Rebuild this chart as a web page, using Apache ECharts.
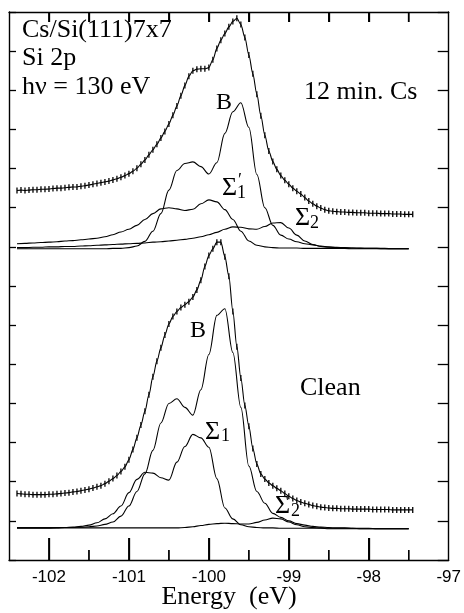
<!DOCTYPE html>
<html><head><meta charset="utf-8">
<script src="https://cdn.jsdelivr.net/npm/echarts@6.0.0/dist/echarts.min.js"></script>
<style>html,body{margin:0;padding:0;background:#fff}#c{width:464px;height:613px}</style>
</head><body><div id="c"></div><script>
// Measured spectra (binding energy in eV, intensity in arbitrary units)
const energyData = [
-102.40,-102.35,-102.30,-102.25,-102.20,-102.15,-102.10,-102.05,-102.00,-101.95,
-101.90,-101.85,-101.80,-101.75,-101.70,-101.65,-101.60,-101.55,-101.50,-101.45,
-101.40,-101.35,-101.30,-101.25,-101.20,-101.15,-101.10,-101.05,-101.00,-100.95,
-100.90,-100.85,-100.80,-100.75,-100.70,-100.65,-100.60,-100.55,-100.50,-100.45,
-100.40,-100.35,-100.30,-100.25,-100.20,-100.15,-100.10,-100.05,-100.00,-99.95,
-99.90,-99.85,-99.80,-99.75,-99.70,-99.65,-99.60,-99.55,-99.50,-99.45,
-99.40,-99.35,-99.30,-99.25,-99.20,-99.15,-99.10,-99.05,-99.00,-98.95,
-98.90,-98.85,-98.80,-98.75,-98.70,-98.65,-98.60,-98.55,-98.50,-98.45,
-98.40,-98.35,-98.30,-98.25,-98.20,-98.15,-98.10,-98.05,-98.00,-97.95,
-97.90,-97.85,-97.80,-97.75,-97.70,-97.65,-97.60,-97.55,-97.50,-97.45];
const cs12Total = [
9.44,9.45,9.44,9.45,9.46,9.46,9.47,9.47,9.48,9.49,
9.50,9.50,9.51,9.52,9.53,9.53,9.55,9.56,9.58,9.60,
9.62,9.64,9.66,9.68,9.71,9.74,9.78,9.82,9.87,9.93,
10.01,10.11,10.22,10.35,10.48,10.62,10.78,10.95,11.14,11.36,
11.60,11.86,12.12,12.36,12.50,12.54,12.55,12.55,12.58,12.78,
13.07,13.28,13.45,13.62,13.76,13.84,13.68,13.35,12.90,12.42,
11.90,11.35,10.85,10.45,10.18,9.98,9.82,9.70,9.60,9.50,
9.42,9.35,9.26,9.17,9.10,9.04,8.99,8.95,8.92,8.91,
8.90,8.89,8.89,8.88,8.88,8.87,8.87,8.87,8.86,8.86,
8.86,8.85,8.85,8.85,8.84,8.84,8.84,8.83,8.83,8.83];
const cleanTotal = [
1.70,1.69,1.68,1.68,1.67,1.67,1.67,1.67,1.68,1.68,
1.69,1.70,1.71,1.72,1.74,1.75,1.77,1.79,1.81,1.84,
1.87,1.90,1.95,2.01,2.08,2.16,2.26,2.38,2.56,2.82,
3.12,3.45,3.80,4.22,4.68,5.08,5.42,5.75,6.03,6.22,
6.35,6.45,6.52,6.60,6.72,6.90,7.15,7.50,7.78,7.95,
8.12,8.12,7.75,7.25,6.35,5.45,4.65,3.95,3.42,2.85,
2.45,2.20,2.07,1.97,1.90,1.83,1.77,1.70,1.63,1.57,
1.52,1.48,1.45,1.42,1.39,1.37,1.35,1.34,1.33,1.32,
1.32,1.31,1.31,1.31,1.30,1.30,1.30,1.30,1.30,1.29,
1.29,1.29,1.29,1.29,1.28,1.28,1.28,1.28,1.28,1.28];

// Fitted components
const energyFit = [
-102.4,-102.3,-102.2,-102.1,-102.0,-101.9,-101.8,-101.7,-101.6,-101.5,
-101.4,-101.3,-101.2,-101.1,-101.0,-100.9,-100.8,-100.7,-100.6,-100.5,
-100.4,-100.3,-100.2,-100.1,-100.0,-99.9,-99.8,-99.7,-99.6,-99.5,
-99.4,-99.3,-99.2,-99.1,-99.0,-98.9,-98.8,-98.7,-98.6,-98.5,
-98.4,-98.3,-98.2,-98.1,-98.0,-97.9,-97.8,-97.7,-97.6,-97.5];
const cs12B = [
7.95,7.95,7.95,7.95,7.95,7.95,7.95,7.95,7.95,7.95,
7.95,7.95,7.96,7.96,7.98,8.02,8.14,8.40,8.85,9.45,
9.95,10.13,10.17,10.05,9.86,10.15,10.90,11.45,11.68,11.05,
9.85,9.00,8.55,8.30,8.20,8.13,8.08,8.05,8.02,8.00,
7.99,7.98,7.97,7.97,7.96,7.96,7.96,7.95,7.95,7.95];
const cs12Sigma1 = [
8.08,8.09,8.10,8.11,8.12,8.13,8.15,8.16,8.18,8.20,
8.22,8.26,8.31,8.38,8.45,8.55,8.70,8.85,8.97,9.00,
8.97,8.93,8.96,9.10,9.20,9.15,8.95,8.70,8.40,8.15,
8.04,8.00,7.98,7.97,7.97,7.97,7.96,7.96,7.96,7.96,
7.96,7.96,7.95,7.95,7.95,7.95,7.95,7.95,7.95,7.95];
const cs12Sigma2 = [
7.98,7.98,7.99,7.99,8.00,8.00,8.01,8.01,8.02,8.03,
8.04,8.05,8.06,8.07,8.08,8.09,8.10,8.12,8.13,8.15,
8.17,8.19,8.22,8.26,8.31,8.37,8.45,8.51,8.50,8.46,
8.45,8.52,8.61,8.62,8.48,8.30,8.15,8.06,8.01,7.99,
7.98,7.97,7.97,7.96,7.96,7.96,7.95,7.95,7.95,7.95];
const cleanB = [
0.82,0.82,0.82,0.82,0.82,0.82,0.83,0.83,0.84,0.85,
0.87,0.91,0.97,1.12,1.38,1.75,2.20,2.80,3.50,4.00,
4.12,3.90,3.70,4.35,5.25,6.25,6.42,5.30,3.90,2.40,
1.75,1.45,1.19,1.09,1.00,0.93,0.89,0.86,0.84,0.83,
0.82,0.82,0.81,0.81,0.81,0.80,0.80,0.80,0.80,0.80];
const cleanSigma1 = [
0.82,0.82,0.82,0.82,0.82,0.83,0.83,0.84,0.86,0.89,
0.95,1.05,1.18,1.38,1.72,2.06,2.24,2.22,2.10,2.04,
2.50,2.90,3.21,3.12,2.88,2.08,1.33,1.05,0.90,0.85,
0.83,0.82,0.82,0.81,0.81,0.81,0.81,0.81,0.81,0.80,
0.80,0.80,0.80,0.80,0.80,0.80,0.80,0.80,0.80,0.80];
const cleanSigma2 = [
0.82,0.82,0.82,0.82,0.82,0.82,0.82,0.82,0.82,0.82,
0.82,0.82,0.82,0.82,0.82,0.82,0.82,0.82,0.82,0.82,
0.82,0.83,0.85,0.88,0.91,0.93,0.94,0.93,0.92,0.92,
0.96,1.02,1.07,1.05,0.97,0.90,0.85,0.83,0.82,0.81,
0.81,0.81,0.81,0.80,0.80,0.80,0.80,0.80,0.80,0.80];

// Axis ticks / labels
const xLabelValues = [-102,-101,-100,-99,-98,-97];
const xMajorTicks = [-102,-101,-100,-99,-98];
const xMinorTicks = [-101.5,-100.5,-99.5,-98.5,-97.5];
const xTopTicks = [-102,-101.5,-101,-100.5,-100,-99.5,-99,-98.5,-98,-97.5];
const xTitle = 'Energy  (eV)';

const X_MIN = -102.5, X_MAX = -97, Y_MIN = 0, Y_MAX = 14;
const GRID = {left:9, right:13, top:12, bottom:53};
const W = 464, H = 613;
const PLOT_H = H - GRID.top - GRID.bottom;
const pxToY = (px) => px * (Y_MAX - Y_MIN) / PLOT_H;

const SERIF = '"Liberation Serif","DejaVu Serif",serif';
const chart = echarts.init(document.getElementById('c'), null, {renderer:'canvas'});

const pair = (xs, ys) => xs.map((x, i) => [x, ys[i]]);
const lineSeries = (xs, ys) => ({
  type:'line', data: pair(xs, ys), smooth: 0.35, smoothMonotone:'x', showSymbol:false,
  lineStyle:{color:'#000', width:1.1}, silent:true, z:3
});
const dataSeries = (xs, ys) => ({
  type:'line', data: pair(xs, ys), smooth: 0.3, smoothMonotone:'x',
  symbol:'rect', symbolSize:[1.3,6], showSymbol:true, showAllSymbol:true,
  itemStyle:{color:'#000'}, lineStyle:{color:'#000', width:1.1}, silent:true, z:4
});
// short vertical segments (tick marks) drawn through the axis scale
const tickSeries = (values, atTop, lenPx) => values.map(v => ({
  type:'line', silent:true, showSymbol:false, z:5,
  data: atTop ? [[v, Y_MAX], [v, Y_MAX - pxToY(lenPx)]] : [[v, Y_MIN], [v, Y_MIN + pxToY(lenPx)]],
  lineStyle:{color:'#000', width:1.3}
}));

function txt(text, x, y, size, align) {
  return {type:'text', x:x, y:y, z:100, style:{text:text, fill:'#000',
    font: size + 'px ' + SERIF, textAlign: align||'left', align: align||'left',
    textVerticalAlign:'top', verticalAlign:'top'}};
}
const tickLine = {color:'#000', width:1.3};
const texts = [
  txt('Cs/Si(111)7x7', 22, 17, 26),
  txt('Si 2p', 22, 45, 26),
  txt('h\u03bd = 130 eV', 22, 74, 26),
  txt('12 min. Cs', 304, 79, 26),
  txt('B', 216, 91, 24),
  txt('\u03a3', 222, 175, 26),
  txt('1', 237, 184, 18),
  txt('\u2032', 238, 172, 18),
  txt('\u03a3', 295, 205, 26),
  txt('2', 310, 214, 18),
  txt('B', 190, 319, 24),
  txt('Clean', 300, 375, 26),
  txt('\u03a3', 205, 419, 26),
  txt('1', 221, 427, 18),
  txt('\u03a3', 275, 493, 26),
  txt('2', 291, 502, 18),
  txt(xTitle, 229, 584, 26, 'center')
];

chart.setOption({
  animation:false,
  grid:GRID,
  xAxis:[
    {type:'value', min:X_MIN, max:X_MAX, position:'bottom',
      axisLine:{show:true, onZero:false, lineStyle:{color:'#000', width:1.4}},
      axisTick:{show:true, inside:true, length:22, customValues:xMajorTicks, lineStyle:tickLine},
      splitLine:{show:false},
      axisLabel:{show:true, customValues:xLabelValues, margin:9, color:'#000', fontSize:17,
        fontFamily:'"Liberation Sans Narrow","Liberation Sans",sans-serif',
        formatter:(v)=>String(v)}},
    {type:'value', min:X_MIN, max:X_MAX, position:'top',
      axisLine:{show:true, onZero:false, lineStyle:{color:'#000', width:1.4}},
      axisTick:{show:true, inside:true, length:10, customValues:xTopTicks, lineStyle:tickLine},
      axisLabel:{show:false}, splitLine:{show:false}}
  ],
  yAxis:[
    {type:'value', min:Y_MIN, max:Y_MAX, interval:1, position:'left',
      axisLine:{show:true, onZero:false, lineStyle:{color:'#000', width:1.4}},
      axisTick:{show:true, inside:true, length:7, lineStyle:tickLine},
      axisLabel:{show:false}, splitLine:{show:false}},
    {type:'value', min:Y_MIN, max:Y_MAX, interval:1, position:'right',
      axisLine:{show:true, onZero:false, lineStyle:{color:'#000', width:1.4}},
      axisTick:{show:true, inside:true, length:11, lineStyle:tickLine},
      axisLabel:{show:false}, splitLine:{show:false}}
  ],
  series:[
    dataSeries(energyData, cs12Total),
    lineSeries(energyFit, cs12B),
    lineSeries(energyFit, cs12Sigma1),
    lineSeries(energyFit, cs12Sigma2),
    dataSeries(energyData, cleanTotal),
    lineSeries(energyFit, cleanB),
    lineSeries(energyFit, cleanSigma1),
    lineSeries(energyFit, cleanSigma2)
  ].concat(
    tickSeries(xMajorTicks, false, 22),
    tickSeries(xMinorTicks, false, 10),
    tickSeries(xTopTicks, true, 10)
  ),
  graphic: texts
});

// Extra tick marks as graphic lines, positioned through the x scale
const tickMarks = [];
function toPx(v, yVal) {
  let p = null;
  try { p = chart.convertToPixel({xAxisIndex:0, yAxisIndex:0}, [v, yVal]); } catch (e) { p = null; }
  if (!p || !isFinite(p[0]) || !isFinite(p[1])) {
    const gw = W - GRID.left - GRID.right;
    p = [GRID.left + (v - X_MIN) / (X_MAX - X_MIN) * gw,
         GRID.top + (Y_MAX - yVal) / (Y_MAX - Y_MIN) * PLOT_H];
  }
  return p;
}
function addTicks(values, yVal, dir, len) {
  values.forEach(v => {
    const p = toPx(v, yVal);
    tickMarks.push({type:'line', z:60, silent:true,
      shape:{x1:p[0], y1:p[1], x2:p[0], y2:p[1] + dir*len},
      style:{stroke:'#000', lineWidth:1.3}});
  });
}
addTicks(xMajorTicks, Y_MIN, -1, 22);
addTicks(xMinorTicks, Y_MIN, -1, 10);
addTicks(xTopTicks, Y_MAX, 1, 10);
chart.setOption({graphic: texts.concat(tickMarks)});
</script></body></html>
